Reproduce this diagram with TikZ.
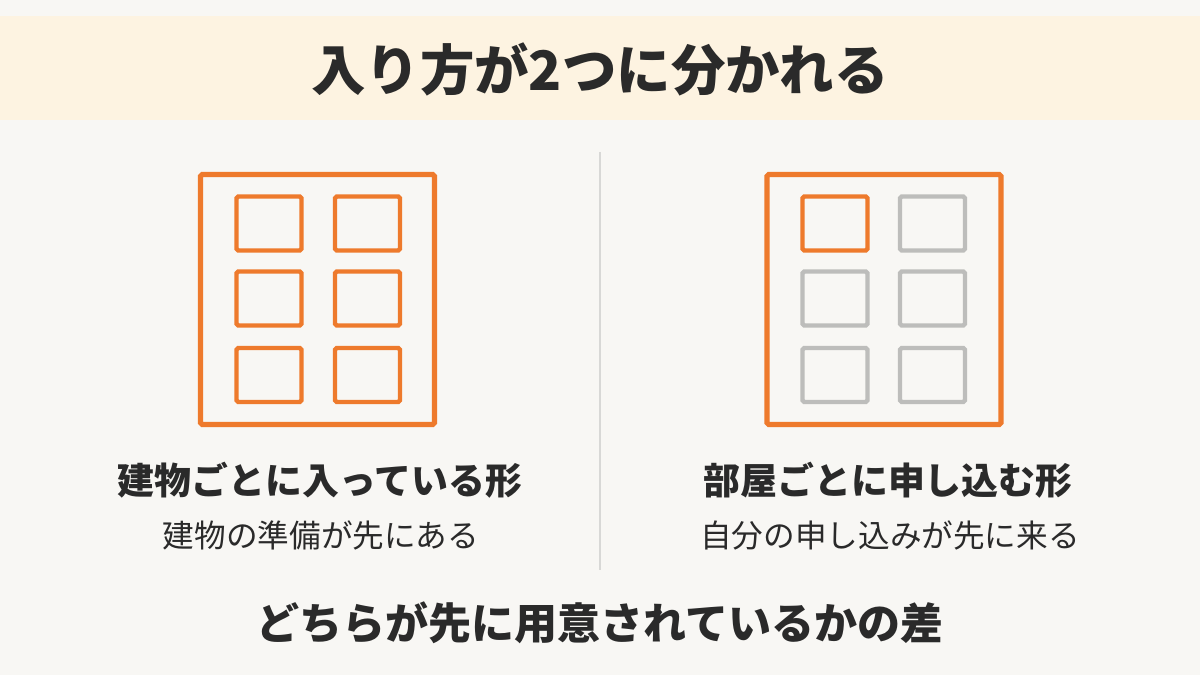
\documentclass[tikz,border=0pt]{standalone}
\usepackage{fontspec}
\setmainfont{Noto Sans CJK JP}
\usetikzlibrary{positioning}
\definecolor{bgpaper}{HTML}{F8F7F4}
\definecolor{bannerbg}{HTML}{FDF3E1}
\definecolor{roomorange}{HTML}{EE7A2C}
\definecolor{roomgray}{HTML}{BDBDBB}
\definecolor{inkdark}{HTML}{2A2A2A}
\definecolor{inkrule}{HTML}{D8D8D6}

\begin{document}
\begin{tikzpicture}[x=0.02cm,y=-0.02cm,text=inkdark]
    \tikzstyle{building}=[rectangle,draw=roomorange,line width=2.9pt,rounded corners=1pt,minimum width=4.68cm,minimum height=5.0cm]
    \tikzstyle{room}=[rectangle,draw=roomorange,line width=2.5pt,rounded corners=1pt,minimum width=1.3cm,minimum height=1.08cm]
    \tikzstyle{emptyroom}=[room,draw=roomgray]
    \tikzstyle{heading}=[font=\fontsize{21}{25}\selectfont\bfseries]
    \tikzstyle{subline}=[font=\fontsize{18}{22}\selectfont]
    \useasboundingbox[fill=bgpaper] (0,0) rectangle (1200,675);
    \fill[bannerbg] (0,16) rectangle (1200,120);
    \node (title) at (600,69) {\fontsize{31}{37}\selectfont\bfseries 入り方が2つに分かれる};
    % left: building first
    \node[building] (bldgA) at (317.5,299.5) {};
    \node[room] (a11) at (269,223.5) {};
    \node[room] (a12) at (367.5,223.5) {};
    \node[room] (a21) at (269,298.5) {};
    \node[room] (a22) at (367.5,298.5) {};
    \node[room] (a31) at (269,375) {};
    \node[room] (a32) at (367.5,375) {};
    \node[heading] (headA) at (320,480) {建物ごとに入っている形};
    \node[subline] (subA) at (321,535) {建物の準備が先にある};
    % divider
    \coordinate (divtop) at (600,152);
    \coordinate (divbot) at (600,570);
    \draw[inkrule,line width=1.2pt] (divtop) -- (divbot);
    % right: rooms first
    \node[building] (bldgB) at (884,299.5) {};
    \node[room] (b11) at (835,223.5) {};
    \node[emptyroom] (b12) at (932.5,223.5) {};
    \node[emptyroom] (b21) at (835,298.5) {};
    \node[emptyroom] (b22) at (932.5,298.5) {};
    \node[emptyroom] (b31) at (835,375) {};
    \node[emptyroom] (b32) at (932.5,375) {};
    \node[heading] (headB) at (888,480) {部屋ごとに申し込む形};
    \node[subline] (subB) at (890,535) {自分の申し込みが先に来る};
    \node (summary) at (600,623) {\fontsize{24.5}{30}\selectfont\bfseries どちらが先に用意されているかの差};
\end{tikzpicture}
\end{document}
